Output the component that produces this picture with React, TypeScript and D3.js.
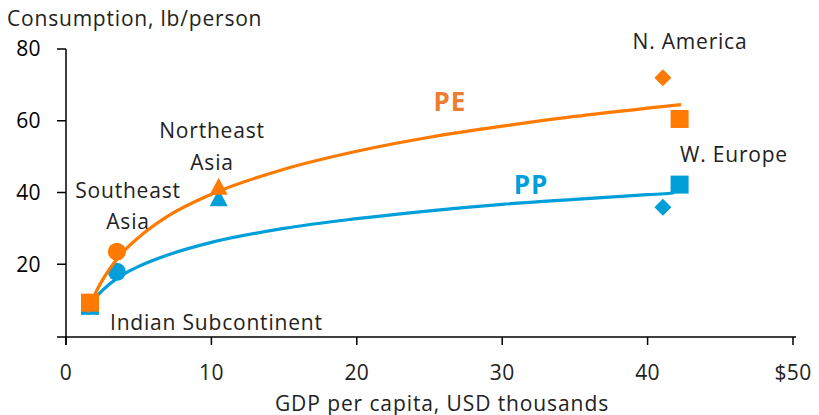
import React from "react";
import * as d3 from "d3";

const regions = ["Indian Subcontinent", "Southeast Asia", "Northeast Asia", "N. America", "W. Europe"];
const shapes = ["square", "circle", "triangle", "diamond", "square"];
const gdp = [1.65, 3.5, 10.5, 41.05, 42.2];
const pePoints = [9.3, 23.5, 41.3, 72.0, 60.5];
const ppPoints = [8.4, 17.9, 38.1, 35.9, 42.2];

const trendX = [1.5, 2, 3, 4, 5, 7, 10, 15, 20, 25, 30, 35, 40, 42.3];
const peTrend = [6.6, 11.7, 18.7, 23.7, 27.5, 33.4, 39.5, 46.5, 51.5, 55.4, 58.5, 61.2, 63.5, 64.5];
const ppTrendX = [1.5, 2, 3, 4, 5, 7, 10, 15, 20, 25, 30, 35, 40, 41.6, 42.2];
const ppTrend = [8.0, 10.6, 14.5, 17.3, 19.4, 22.6, 26.1, 30.0, 32.7, 34.9, 36.7, 38.1, 39.4, 39.8, 41.0];

const xTicks = [0, 10, 20, 30, 40, 50];
const xTickLabels = ["0", "10", "20", "30", "40", "$50"];
const yTicks = [0, 20, 40, 60, 80];

const ORANGE = "#FF7A00";
const BLUE = "#009FDA";
const FONT = "'Open Sans', 'Noto Sans', sans-serif";

export default function App() {
  const W = 819, H = 415;
  const x = d3.scaleLinear().domain([0, 50]).range([66, 793]);
  const y = d3.scaleLinear().domain([0, 80]).range([336, 49]);

  const line = d3.line<number>().curve(d3.curveMonotoneX);
  const pePath = line(trendX.map((v, i) => [x(v), y(peTrend[i])] as any) as any);
  const ppPath = line(ppTrendX.map((v, i) => [x(v), y(ppTrend[i])] as any) as any);

  const marker = (shape: string, cx: number, cy: number, color: string, key: string) => {
    if (shape === "square") return <rect key={key} x={cx - 9} y={cy - 9} width={18} height={18} fill={color} />;
    if (shape === "circle") return <circle key={key} cx={cx} cy={cy} r={9} fill={color} />;
    if (shape === "triangle")
      return <path key={key} d={`M${cx},${cy - 10}L${cx + 9},${cy + 7}L${cx - 9},${cy + 7}Z`} fill={color} />;
    return <path key={key} d={`M${cx},${cy - 8.5}L${cx + 8.5},${cy}L${cx},${cy + 8.5}L${cx - 8.5},${cy}Z`} fill={color} />;
  };

  return (
    <svg width={W} height={H} style={{ position: "absolute", left: 0, top: 0 }} fontFamily={FONT}>
      {/* axes */}
      <line x1={66} x2={66} y1={49} y2={345} stroke="#000" strokeWidth={1.5} />
      <line x1={57} x2={796} y1={337} y2={337} stroke="#000" strokeWidth={1.5} />
      {yTicks.map((t) => (
        <g key={"y" + t}>
          {t > 0 && <line x1={57} x2={66} y1={y(t)} y2={y(t)} stroke="#000" strokeWidth={1.5} />}
          {t > 0 && (
            <text x={41} y={y(t)} dy="0.35em" textAnchor="end" fontSize={21} letterSpacing={0.4} fill="#000">
              {t}
            </text>
          )}
        </g>
      ))}
      {xTicks.map((t, i) => (
        <g key={"x" + t}>
          <line x1={x(t)} x2={x(t)} y1={337} y2={345} stroke="#000" strokeWidth={1.5} />
          <text x={x(t)} y={380} textAnchor="middle" fontSize={21} letterSpacing={0.4} fill="#222">
            {xTickLabels[i]}
          </text>
        </g>
      ))}
      <text x={7} y={26} fontSize={21} letterSpacing={0.8} fill="#222">Consumption, lb/person</text>
      <text x={442} y={410.5} textAnchor="middle" fontSize={21} letterSpacing={0.9} fill="#222">
        GDP per capita, USD thousands
      </text>

      {/* PP */}
      {gdp.map((g, i) => marker(shapes[i], x(g), y(ppPoints[i]), BLUE, "pp" + i))}
      <path d={ppPath!} fill="none" stroke={BLUE} strokeWidth={3.2} />
      {/* PE */}
      {gdp.map((g, i) => marker(shapes[i], x(g), y(pePoints[i]), ORANGE, "pe" + i))}
      <path d={pePath!} fill="none" stroke={ORANGE} strokeWidth={3.2} />

      {/* series labels */}
      <text x={450} y={102} dy="0.35em" textAnchor="middle" fontSize={26} letterSpacing={1} fontWeight="bold" fill="#ED7D31">PE</text>
      <text x={531} y={185} dy="0.35em" textAnchor="middle" fontSize={26} letterSpacing={1} fontWeight="bold" fill={BLUE}>PP</text>

      {/* region labels */}
      <g fontSize={21} letterSpacing={0.8} fill="#222">
        <text x={690} y={42} dy="0.35em" textAnchor="middle">N. America</text>
        <text x={680} y={155} dy="0.35em">W. Europe</text>
        <text x={212} y={131} dy="0.35em" textAnchor="middle">Northeast</text>
        <text x={212} y={163} dy="0.35em" textAnchor="middle">Asia</text>
        <text x={128} y={191} dy="0.35em" textAnchor="middle">Southeast</text>
        <text x={128} y={222} dy="0.35em" textAnchor="middle">Asia</text>
        <text x={110} y={323} dy="0.35em">Indian Subcontinent</text>
      </g>
    </svg>
  );
}
